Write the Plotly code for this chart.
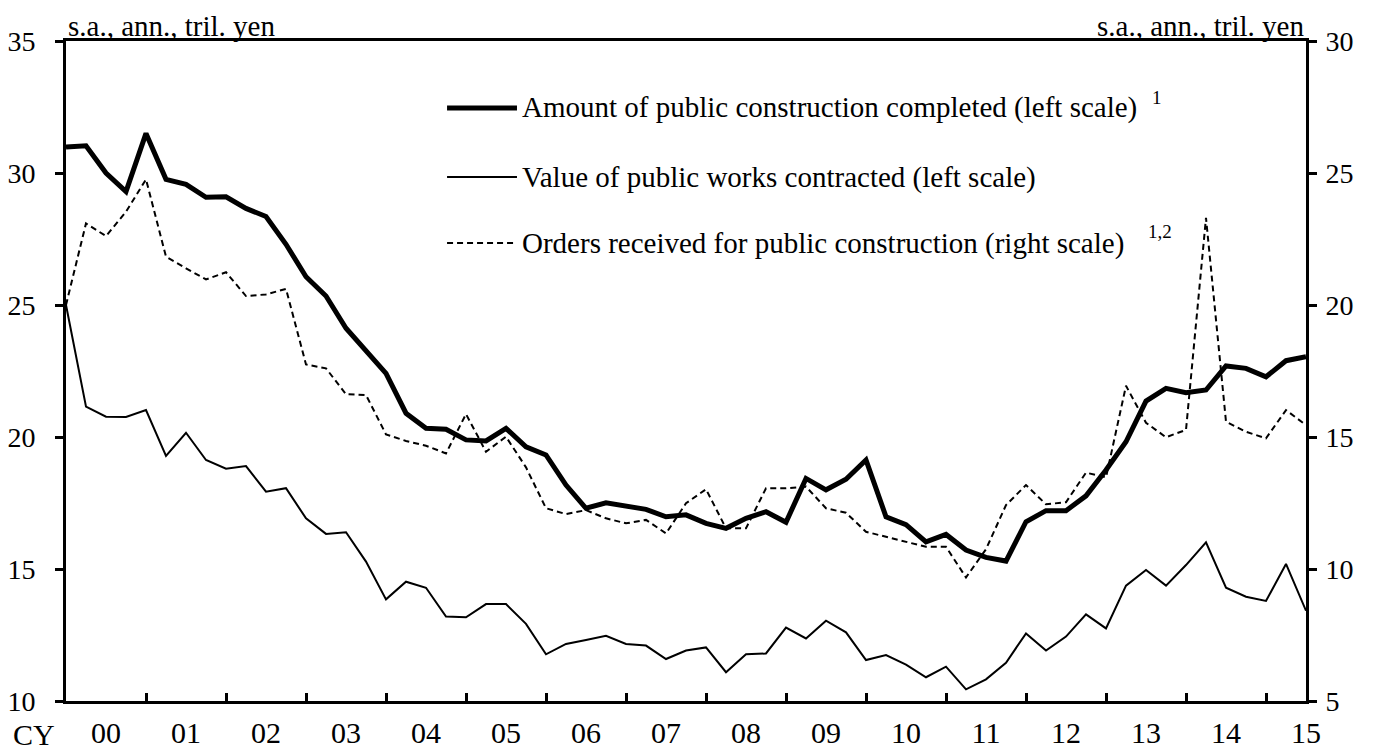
import plotly.graph_objects as go

# Quarterly data, 2000 Q1 onwards (63 quarters)
start_year = 2000
completed = [30.98, 31.03, 30.0, 29.3, 31.5, 29.76, 29.57, 29.08, 29.1, 28.66,
             28.35, 27.3, 26.07, 25.34, 24.12, 23.26, 22.41, 20.9, 20.33, 20.29,
             19.89, 19.85, 20.33, 19.63, 19.32, 18.18, 17.3, 17.51, 17.39, 17.26,
             16.98, 17.05, 16.73, 16.54, 16.92, 17.17, 16.77, 18.43, 18.0, 18.4,
             19.13, 16.98, 16.68, 16.03, 16.31, 15.72, 15.44, 15.3, 16.79, 17.21,
             17.21, 17.77, 18.75, 19.82, 21.36, 21.84, 21.68, 21.78, 22.69, 22.6,
             22.28, 22.89, 23.04]
contracted = [25.0, 21.15, 20.77, 20.76, 21.02, 19.28, 20.16, 19.13, 18.8, 18.9,
              17.93, 18.06, 16.92, 16.33, 16.39, 15.28, 13.85, 14.52, 14.29, 13.2,
              13.17, 13.67, 13.67, 12.92, 11.77, 12.16, 12.31, 12.47, 12.16, 12.1,
              11.59, 11.91, 12.03, 11.09, 11.77, 11.8, 12.78, 12.37, 13.04, 12.6,
              11.55, 11.74, 11.38, 10.9, 11.3, 10.44, 10.82, 11.45, 12.56, 11.91,
              12.44, 13.28, 12.75, 14.37, 14.96, 14.37, 15.15, 16.01, 14.29, 13.95,
              13.79, 15.19, 13.42]
orders = [20.0, 23.09, 22.61, 23.53, 24.76, 21.83, 21.39, 20.97, 21.24, 20.34,
          20.4, 20.61, 17.75, 17.6, 16.62, 16.59, 15.1, 14.85, 14.67, 14.38,
          15.87, 14.44, 15.01, 13.85, 12.3, 12.08, 12.23, 11.92, 11.73, 11.86,
          11.35, 12.49, 13.02, 11.54, 11.54, 13.06, 13.06, 13.12, 12.3, 12.13,
          11.41, 11.22, 11.03, 10.84, 10.84, 9.68, 10.75, 12.42, 13.18, 12.45,
          12.53, 13.65, 13.47, 16.94, 15.54, 14.99, 15.27, 23.3, 15.58, 15.2,
          14.95, 16.02, 15.45]
year_labels = ["00", "01", "02", "03", "04", "05", "06", "07", "08", "09",
               "10", "11", "12", "13", "14", "15"]
legend_names = ["Amount of public construction completed (left scale)",
                "Value of public works contracted (left scale)",
                "Orders received for public construction (right scale)"]
unit_label = "s.a., ann., tril. yen"

x = [start_year + k / 4 for k in range(len(completed))]
FONT = "Liberation Serif, Times New Roman, serif"

fig = go.Figure()
fig.add_trace(go.Scatter(x=x, y=completed, mode="lines", name=legend_names[0],
                         line=dict(color="black", width=5), yaxis="y"))
fig.add_trace(go.Scatter(x=x, y=contracted, mode="lines", name=legend_names[1],
                         line=dict(color="black", width=2), yaxis="y"))
fig.add_trace(go.Scatter(x=x, y=orders, mode="lines", name=legend_names[2],
                         line=dict(color="black", width=2, dash="6px,4px"),
                         yaxis="y2"))

# page body has an 8px margin, so the figure is sized to fit inside the window
fig.update_layout(
    width=1370, height=743,
    margin=dict(l=58, r=72, t=33, b=50, autoexpand=False),
    paper_bgcolor="white", plot_bgcolor="white",
    showlegend=False,
    font=dict(family=FONT, color="black", size=29),
    xaxis=dict(
        range=[start_year, start_year + 15.5],
        tickvals=[start_year + i + 0.5 for i in range(len(year_labels))],
        ticktext=year_labels,
        ticks="", showgrid=False, zeroline=False, automargin=False,
        showline=True, linecolor="black", linewidth=3, mirror=True,
        tickfont=dict(size=30, family=FONT),
        ticklabelstandoff=3,
        minor=dict(tickvals=[start_year + i for i in range(1, 16)],
                   ticks="inside", ticklen=8, tickwidth=2.5, tickcolor="black",
                   showgrid=False),
    ),
    yaxis=dict(
        range=[10, 35], dtick=5, tick0=10, automargin=False,
        ticks="outside", ticklen=8, tickwidth=2.5, tickcolor="black",
        showline=True, linecolor="black", linewidth=3,
        showgrid=False, zeroline=False,
        tickfont=dict(size=28, family=FONT),
        ticklabelstandoff=14,
    ),
    yaxis2=dict(
        range=[5, 30], dtick=5, tick0=5, automargin=False,
        overlaying="y", side="right",
        ticks="outside", ticklen=8, tickwidth=2.5, tickcolor="black",
        showline=True, linecolor="black", linewidth=3,
        showgrid=False, zeroline=False,
        tickfont=dict(size=28, family=FONT),
        ticklabelstandoff=3,
    ),
)

annotations = [
    dict(text=unit_label, xref="paper", yref="paper", x=0, y=1,
         xanchor="left", yanchor="bottom", showarrow=False, yshift=-3,
         font=dict(size=29, family=FONT)),
    dict(text=unit_label, xref="paper", yref="paper", x=1, y=1,
         xanchor="right", yanchor="bottom", showarrow=False, yshift=-3,
         font=dict(size=29, family=FONT)),
    dict(text="CY", xref="paper", yref="paper", x=-0.026, y=-0.0515,
         xanchor="center", yanchor="middle", showarrow=False,
         font=dict(size=30, family=FONT)),
]

# custom legend
rows_y = [0.8985, 0.7939, 0.6939]
styles = [dict(width=5, dash="solid"), dict(width=2, dash="solid"),
          dict(width=2, dash="6px,4px")]
shapes = []
for ry, st, name in zip(rows_y, styles, legend_names):
    shapes.append(dict(type="line", xref="paper", yref="paper",
                       x0=0.3073, x1=0.3637, y0=ry, y1=ry,
                       line=dict(color="black", width=st["width"], dash=st["dash"])))
    annotations.append(dict(text=name, xref="paper", yref="paper", x=0.3665, y=ry,
                            xanchor="left", yanchor="middle", showarrow=False,
                            font=dict(size=29, family=FONT)))
annotations.append(dict(text="1", xref="paper", yref="paper", x=0.8798, y=0.915,
                        xanchor="center", yanchor="middle", showarrow=False,
                        font=dict(size=19, family=FONT)))
annotations.append(dict(text="1,2", xref="paper", yref="paper", x=0.8823, y=0.712,
                        xanchor="center", yanchor="middle", showarrow=False,
                        font=dict(size=19, family=FONT)))

fig.update_layout(annotations=annotations, shapes=shapes)
fig.write_html("out.html")
